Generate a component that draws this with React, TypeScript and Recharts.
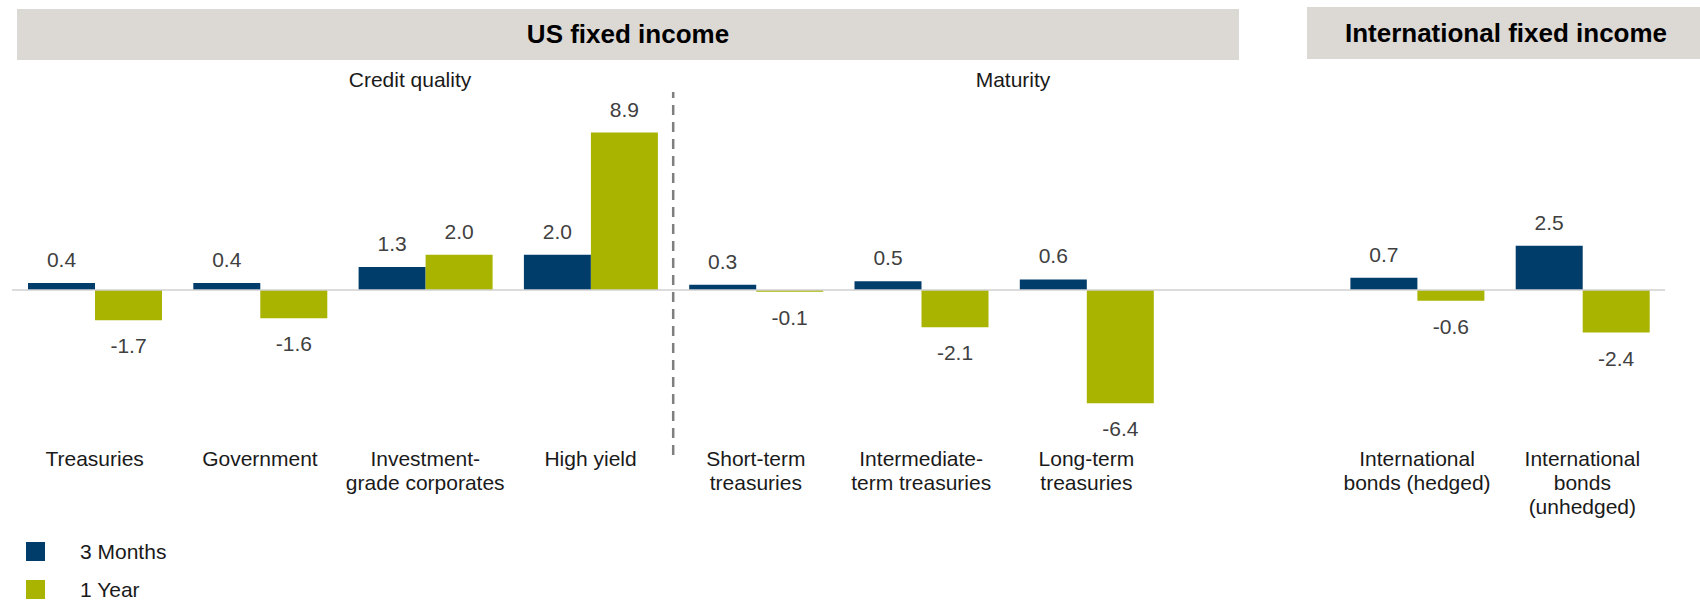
import React from 'react'
import { BarChart, Bar, XAxis, YAxis, ReferenceLine, LabelList } from 'recharts'

// category labels (\n = line break in the axis tick)
const categories = [
  'Treasuries',
  'Government',
  'Investment-\ngrade corporates',
  'High yield',
  'Short-term\ntreasuries',
  'Intermediate-\nterm treasuries',
  'Long-term\ntreasuries',
  '',
  'International\nbonds (hedged)',
  'International\nbonds\n(unhedged)',
]
const threeMonths = [0.4, 0.4, 1.3, 2.0, 0.3, 0.5, 0.6, null, 0.7, 2.5]
const oneYear = [-1.7, -1.6, 2.0, 8.9, -0.1, -2.1, -6.4, null, -0.6, -2.4]

const seriesNames = ['3 Months', '1 Year']
const seriesColors = ['#003d6b', '#a9b400']
const headerTitles = ['US fixed income', 'International fixed income']
const subTitles = ['Credit quality', 'Maturity']

const FONT = '"Liberation Sans", Arial, sans-serif'

const data = categories.map((name, i) => ({
  name,
  m3: threeMonths[i],
  y1: oneYear[i],
}))

// tick label with multiple lines
const CategoryTick = ({ x, y, payload }: any) => {
  const lines = String(payload.value).split('\n')
  return (
    <text x={x} y={y} textAnchor='middle' fontSize={21} fill='#1a1a1a' fontFamily={FONT}>
      {lines.map((l, i) => (
        <tspan key={i} x={x} y={y + 10.5 + i * 24}>
          {l}
        </tspan>
      ))}
    </text>
  )
}

// value above positive bars, below negative ones
const ValueLabel = ({ x, y, width, height, value }: any) => {
  if (value == null) return null
  const top = Math.min(y, y + height)
  const bottom = Math.max(y, y + height)
  const ty = value >= 0 ? top - 16 : bottom + 33
  return (
    <text x={x + width / 2} y={ty} textAnchor='middle' fontSize={21} fill='#404040' fontFamily={FONT}>
      {Number(value).toFixed(1)}
    </text>
  )
}

export default function App() {
  return (
    <div style={{ position: 'relative', width: 1700, height: 600, fontFamily: FONT, background: '#fff' }}>
      <style>{'body{margin:0}'}</style>
      <svg width={1700} height={600} style={{ position: 'absolute', left: 0, top: 0 }}>
        <rect x={17} y={9} width={1222} height={51} fill='#dcd9d5' />
        <rect x={1307} y={7} width={393} height={52} fill='#dcd9d5' />
        <text x={628} y={43} textAnchor='middle' fontSize={26} fontWeight='bold' fill='#000' fontFamily={FONT}>
          {headerTitles[0]}
        </text>
        <text x={1506} y={41.5} textAnchor='middle' fontSize={26} fontWeight='bold' fill='#000' fontFamily={FONT}>
          {headerTitles[1]}
        </text>
        <text x={410} y={86.5} textAnchor='middle' fontSize={21} fill='#1a1a1a' fontFamily={FONT}>
          {subTitles[0]}
        </text>
        <text x={1013} y={86.5} textAnchor='middle' fontSize={21} fill='#1a1a1a' fontFamily={FONT}>
          {subTitles[1]}
        </text>
        {seriesNames.map((n, i) => (
          <g key={n}>
            <rect x={26} y={542 + i * 38} width={19} height={19} fill={seriesColors[i]} />
            <text x={80} y={559.3 + i * 37.4} fontSize={21} fill='#1a1a1a' fontFamily={FONT}>
              {n}
            </text>
          </g>
        ))}
      </svg>
      <div style={{ position: 'absolute', left: 0, top: 0 }}>
        <BarChart
          width={1700}
          height={600}
          data={data}
          margin={{ top: 92, right: 35, left: 12, bottom: 65 }}
          barGap={0}
          barCategoryGap={16}
        >
          <XAxis
            dataKey='name'
            type='category'
            height={80}
            axisLine={false}
            tickLine={false}
            tickSize={0}
            tickMargin={0}
            interval={0}
            tick={<CategoryTick />}
          />
          <YAxis type='number' domain={[-9.32, 11.19]} allowDataOverflow hide />
          <Bar dataKey='m3' name={seriesNames[0]} fill={seriesColors[0]} isAnimationActive={false}>
            <LabelList dataKey='m3' content={<ValueLabel />} />
          </Bar>
          <Bar dataKey='y1' name={seriesNames[1]} fill={seriesColors[1]} isAnimationActive={false}>
            <LabelList dataKey='y1' content={<ValueLabel />} />
          </Bar>
          <ReferenceLine y={0} stroke='#d0d0d0' strokeWidth={1.5} />
          {/* divider between credit-quality and maturity groups */}
          <ReferenceLine
            x={categories[4]}
            position='start'
            stroke='#7f7f7f'
            strokeWidth={2.5}
            strokeDasharray='10 7'
          />
        </BarChart>
      </div>
    </div>
  )
}
